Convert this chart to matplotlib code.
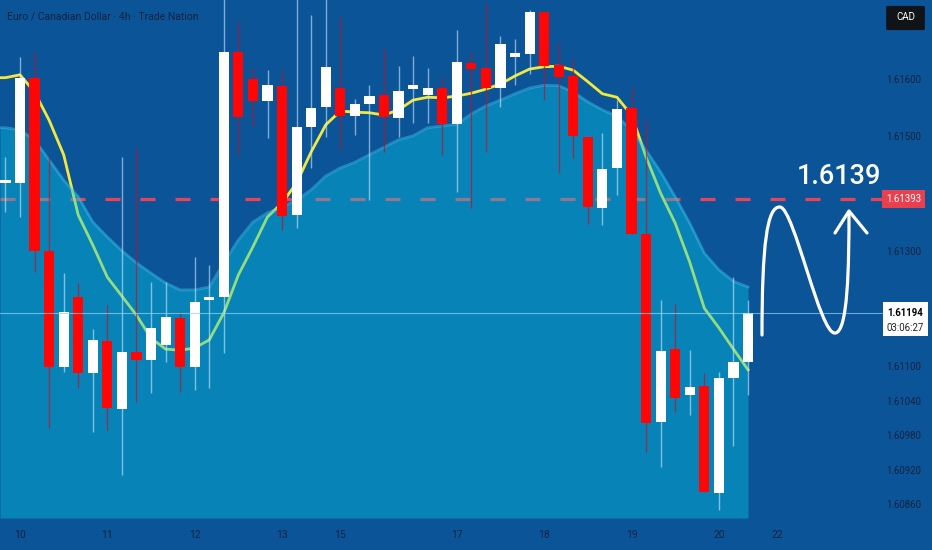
import numpy as np
import matplotlib
matplotlib.use("Agg")
import matplotlib.pyplot as plt
from matplotlib.path import Path
from matplotlib.patches import PathPatch, Rectangle, FancyBboxPatch
from matplotlib.transforms import blended_transform_factory

# 4h candles, EUR/CAD
opens = [1.61421, 1.61421, 1.61604, 1.61303, 1.61101, 1.61223, 1.61091, 1.61146, 1.61028, 1.61127,
         1.61113, 1.61139, 1.61186, 1.61101, 1.61217, 1.61223, 1.61649, 1.61602, 1.61563, 1.61590,
         1.61365, 1.61518, 1.61553, 1.61586, 1.61537, 1.61558, 1.61574, 1.61534, 1.61584, 1.61574,
         1.61586, 1.61523, 1.61630, 1.61621, 1.61586, 1.61640, 1.61645, 1.61718, 1.61626, 1.61607,
         1.61501, 1.61377, 1.61447, 1.61551, 1.61332, 1.61005, 1.61132, 1.61052, 1.61068, 1.60882,
         1.61082, 1.61110]
highs = [1.61466, 1.61640, 1.61649, 1.61466, 1.61264, 1.61247, 1.61167, 1.61209, 1.61466, 1.61482,
         1.61249, 1.61249, 1.61197, 1.61292, 1.61278, 1.61760, 1.61701, 1.61621, 1.61617, 1.61617,
         1.61760, 1.61713, 1.61760, 1.61710, 1.61567, 1.61591, 1.61654, 1.61624, 1.61642, 1.61621,
         1.61605, 1.61687, 1.61649, 1.61734, 1.61677, 1.61671, 1.61722, 1.61720, 1.61664, 1.61636,
         1.61501, 1.61508, 1.61565, 1.61588, 1.61530, 1.61217, 1.61210, 1.61130, 1.61091, 1.61092,
         1.61257, 1.61217]
lows = [1.61370, 1.61362, 1.61266, 1.60995, 1.61092, 1.61064, 1.60988, 1.60991, 1.60913, 1.61040,
        1.61056, 1.61110, 1.61057, 1.61061, 1.61064, 1.61125, 1.61470, 1.61520, 1.61499, 1.61339,
        1.61343, 1.61447, 1.61501, 1.61478, 1.61504, 1.61391, 1.61475, 1.61501, 1.61525, 1.61525,
        1.61470, 1.61405, 1.61377, 1.61475, 1.61553, 1.61591, 1.61610, 1.61565, 1.61438, 1.61464,
        1.61350, 1.61348, 1.61400, 1.61332, 1.60953, 1.60927, 1.61023, 1.61017, 1.60884, 1.60852,
        1.60964, 1.61052]
closes = [1.61423, 1.61604, 1.61303, 1.61101, 1.61197, 1.61091, 1.61148, 1.61030, 1.61127, 1.61113,
          1.61169, 1.61188, 1.61101, 1.61214, 1.61221, 1.61649, 1.61536, 1.61563, 1.61591, 1.61363,
          1.61518, 1.61551, 1.61623, 1.61537, 1.61558, 1.61572, 1.61536, 1.61581, 1.61591, 1.61586,
          1.61523, 1.61631, 1.61619, 1.61586, 1.61663, 1.61647, 1.61718, 1.61624, 1.61605, 1.61503,
          1.61379, 1.61445, 1.61550, 1.61332, 1.61004, 1.61129, 1.61047, 1.61066, 1.60884, 1.61082,
          1.61110, 1.61194]

# moving average and upper band of the shaded area
ma = [1.61604, 1.61609, 1.61579, 1.61530, 1.61470, 1.61365, 1.61313, 1.61257, 1.61224, 1.61191,
      1.61151, 1.61132, 1.61130, 1.61134, 1.61148, 1.61195, 1.61261, 1.61310, 1.61362, 1.61386,
      1.61421, 1.61475, 1.61522, 1.61546, 1.61544, 1.61543, 1.61539, 1.61548, 1.61565, 1.61570,
      1.61569, 1.61572, 1.61577, 1.61584, 1.61593, 1.61607, 1.61619, 1.61623, 1.61624, 1.61617,
      1.61597, 1.61576, 1.61570, 1.61539, 1.61466, 1.61403, 1.61351, 1.61283, 1.61203, 1.61169,
      1.61132, 1.61096]
band = [1.61517, 1.61513, 1.61496, 1.61461, 1.61426, 1.61397, 1.61353, 1.61327, 1.61303, 1.61282,
        1.61264, 1.61247, 1.61235, 1.61235, 1.61240, 1.61282, 1.61322, 1.61353, 1.61369, 1.61379,
        1.61391, 1.61409, 1.61433, 1.61447, 1.61457, 1.61470, 1.61483, 1.61496, 1.61503, 1.61517,
        1.61520, 1.61523, 1.61541, 1.61555, 1.61565, 1.61576, 1.61586, 1.61591, 1.61590, 1.61579,
        1.61562, 1.61548, 1.61537, 1.61513, 1.61478, 1.61440, 1.61397, 1.61351, 1.61299, 1.61270,
        1.61250, 1.61240]

day_pos = [0, 6, 12, 18, 22, 30, 36, 42, 48, 52]
day_labels = ["10", "11", "12", "13", "15", "17", "18", "19", "20", "22"]
price_ticks = [1.61600, 1.61500, 1.61300, 1.61100, 1.61040, 1.60980, 1.60920, 1.60860]
target = 1.61393
last_price = 1.61194
countdown = "03:06:27"
title = "Euro / Canadian Dollar · 4h · Trade Nation"

BG = "#0b5498"
FILL = "#05cce8"
TXT = "#14233f"
plt.rcParams["font.family"] = ["Roboto", "DejaVu Sans"]

W, H = 932, 550
fig = plt.figure(figsize=(W / 100, H / 100), dpi=100)
fig.patch.set_facecolor(BG)
ax = fig.add_axes([0, 0, 1, 1])
ax.set_facecolor(BG)
ax.axis("off")

slot = 14.56                      # pixels per candle
x0 = -20 / slot
x1 = (W - 20) / slot
ax.set_xlim(x0, x1)
ax.set_ylim(1.617391 - H / 57500, 1.617391)

idx = np.arange(len(opens)) - 1
o, h, l, c = map(np.array, (opens, highs, lows, closes))
up = c >= o


def fx(px):
    return px / W


def fy(py):
    return 1 - py / H


# dashed target line (under the shaded area)
ax.plot([x0, (855 - 20) / slot], [target, target], color="#ea4358", lw=2.3,
        dashes=(10.8 / 2.3, 14.4 / 2.3), solid_capstyle="butt", zorder=1)
ax.plot([(872 - 20) / slot, (884 - 20) / slot], [target, target], color="#ea4358", lw=2.3, zorder=1)

# moving average
xs_ma = np.concatenate([[x0], idx])
ax.plot(xs_ma, [ma[0]] + ma, color="#f3e83c", lw=2.0, zorder=1.5)

# shaded band area
bottom = 1.617391 - 518 / 57500
xs_b = np.concatenate([[x0], idx])
ys_b = np.array([band[0]] + band)
ax.fill_between(xs_b, ys_b, bottom, color=FILL, alpha=0.4, lw=0, zorder=2)
ax.plot(xs_b, ys_b, color="#3fc3ee", lw=2.0, alpha=0.45, zorder=2.1)

# candles
ax.vlines(idx[up], l[up], h[up], color="#cdeaff", lw=1.0, alpha=0.6, zorder=3)
ax.vlines(idx[~up], l[~up], h[~up], color="#b8142c", lw=1.0, alpha=0.7, zorder=3)
body_lo = np.minimum(o, c)
body_h = np.maximum(np.abs(c - o), 0.00005)
ax.bar(idx[up], body_h[up], bottom=body_lo[up], width=0.7, color="white", lw=0, zorder=4)
ax.bar(idx[~up], body_h[~up], bottom=body_lo[~up], width=0.7, color="#ff0505", lw=0, zorder=4)

# last price line
ax.plot([x0, (883 - 20) / slot], [last_price, last_price], color="#8fd3f5", lw=0.8, alpha=0.7, zorder=5)

# hand drawn wave with arrow
verts = [(fx(762), fy(335)), (fx(762), fy(245)), (fx(767), fy(206)), (fx(780), fy(207)),
         (fx(794), fy(208)), (fx(820), fy(335)), (fx(835), fy(333)),
         (fx(848), fy(333)), (fx(849), fy(265)), (fx(849), fy(212))]
codes = [Path.MOVETO] + [Path.CURVE4] * 9
ax.add_patch(PathPatch(Path(verts, codes), transform=fig.transFigure, fc="none", ec="white",
                       lw=2.3, capstyle="round", zorder=6))
ax.plot([fx(835), fx(849), fx(867)], [fy(233), fy(211), fy(233)], transform=fig.transFigure,
        color="white", lw=2.3, solid_capstyle="round", solid_joinstyle="round", zorder=6)
ax.text(fx(839), fy(176), "1.6139", transform=fig.transFigure, color="white", fontsize=19.5,
        fontweight="medium", ha="center", va="center", zorder=7)

# price scale
tr = blended_transform_factory(ax.transAxes, ax.transData)
for p in price_ticks:
    ax.text(fx(904), p, f"{p:.5f}", transform=tr, color=TXT, fontsize=6.9, ha="center", va="center")
ax.text(fx(903.5), target, f"{target:.5f}", transform=tr, color="white", fontsize=6.9,
        ha="center", va="center", zorder=8,
        bbox=dict(boxstyle="square,pad=0.45", fc="#e8404f", ec="none"))
ax.add_patch(Rectangle((fx(883), fy(336)), 45 / W, 34 / H, transform=fig.transFigure,
                       fc="white", ec="none", zorder=8))
ax.text(fx(905.5), last_price, f"{last_price:.5f}", transform=tr, color="black", fontsize=6.9,
        fontweight="bold", ha="center", va="center", zorder=9)
ax.text(fx(905.5), fy(328), countdown, transform=fig.transFigure, color="#222222", fontsize=6.9,
        ha="center", va="center", zorder=9)
ax.add_patch(FancyBboxPatch((fx(888), fy(29)), 35 / W, 22 / H, transform=fig.transFigure,
                            boxstyle="round,pad=0.002", fc="#101318", ec="none", zorder=8))
ax.text(fx(905.5), fy(17.5), "CAD", transform=fig.transFigure, color="white", fontsize=6.9,
        ha="center", va="center", zorder=9)

# time scale
trx = blended_transform_factory(ax.transData, ax.transAxes)
for d, lab in zip(day_pos, day_labels):
    ax.text(d, fy(535), lab, transform=trx, color=TXT, fontsize=7.5, ha="center", va="center")

ax.text(fx(7), fy(17), title, transform=fig.transFigure, color=TXT, fontsize=7.5,
        ha="left", va="center")

fig.savefig("out.png", dpi=100, facecolor=BG)
